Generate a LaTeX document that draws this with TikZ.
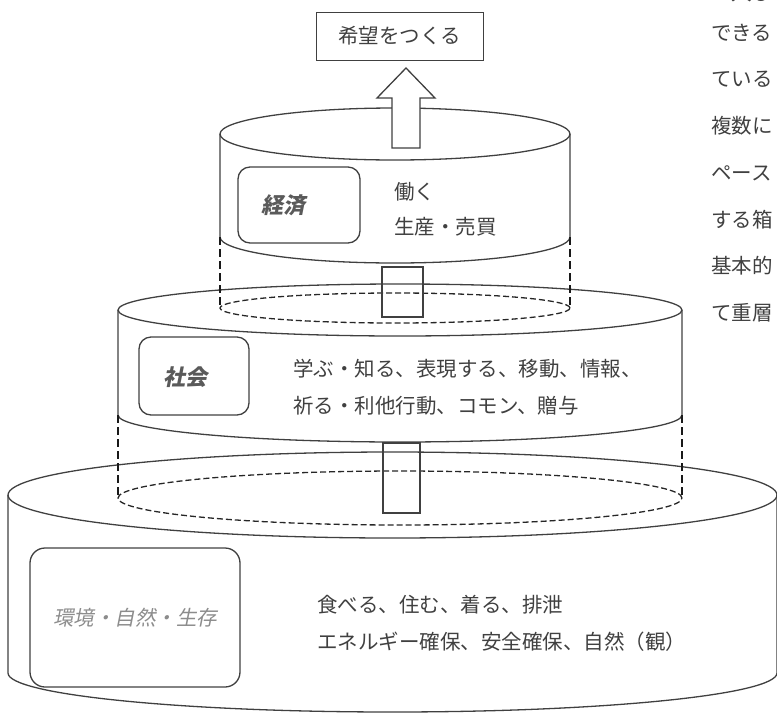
\documentclass[tikz,border=0pt]{standalone}
\usepackage{fontspec}
\setmainfont{Noto Sans CJK JP}
\newfontfamily\jpit[FakeSlant=0.2]{Noto Sans CJK JP}
\definecolor{ink}{HTML}{404040}
\definecolor{lblA}{HTML}{5A5A5A}
\definecolor{lblB}{HTML}{8C8C8C}
\begin{document}
\begin{tikzpicture}[x=1pt,y=1pt,
  solidline/.style={draw=ink, line width=1.3pt},
  dashedell/.style={draw=black!85, line width=1.3pt, dash pattern=on 6pt off 3pt},
  dashedvert/.style={draw=black!90, line width=2pt, dash pattern=on 8pt off 4pt},
  lbox/.style={draw=ink, line width=1.3pt, rounded corners=12pt},
  txt/.style={font=\fontsize{20.5}{24}\selectfont, text=ink, inner sep=0pt, anchor=west},
  lbl/.style={font=\fontsize{22}{26}\selectfont\jpit\bfseries, text=lblA, inner sep=0pt},
  lblc/.style={font=\fontsize{20.5}{24}\selectfont\jpit, text=lblB, inner sep=0pt}]
\useasboundingbox (0,0) rectangle (777,-713);

% bottom cylinder
\draw[solidline] (392.5,-495) ellipse [x radius=384.5, y radius=43];
\draw[solidline] (8,-495) -- (8,-673) arc[start angle=180, end angle=360, x radius=384.5, y radius=39] -- (777,-495);
\draw[dashedell] (400,-498) ellipse [x radius=282, y radius=27];

% middle cylinder
\draw[solidline] (400,-310) ellipse [x radius=282, y radius=26];
\draw[solidline] (118,-310) -- (118,-415) arc[start angle=180, end angle=360, x radius=282, y radius=27] -- (682,-310);
\draw[dashedvert] (118,-415) -- (118,-498);
\draw[dashedvert] (682,-415) -- (682,-498);
\draw[dashedell] (395,-308) ellipse [x radius=175, y radius=15];

% top cylinder
\draw[solidline] (395,-134) ellipse [x radius=175, y radius=26];
\draw[solidline] (220,-134) -- (220,-237) arc[start angle=180, end angle=360, x radius=175, y radius=26] -- (570,-134);
\draw[dashedvert] (220,-237) -- (220,-308);
\draw[dashedvert] (570,-237) -- (570,-308);

% small connecting blocks
\draw[solidline] (382,-267) rectangle (423,-317);
\draw[solidline] (383,-443) rectangle (420,-513);

% goal box and block arrow
\node[draw=ink, line width=1pt, minimum width=167pt, minimum height=48pt, inner sep=0pt,
      font=\fontsize{20.5}{24}\selectfont, text=ink] (goal) at (399.5,-36) {希望をつくる};
\draw[solidline, fill=white] (392,-148) -- (392,-98) -- (377,-98) -- (406,-68) -- (435,-98) -- (420,-98) -- (420,-148) -- cycle;

% label boxes
\node[lbox, minimum width=122pt, minimum height=76pt] (econbox) at (299,-205) {};
\node[lbl] (econ) at (283,-205) {経済};
\node[lbox, minimum width=110pt, minimum height=78pt] (socbox) at (194,-376) {};
\node[lbl] (soc) at (185,-377) {社会};
\node[lbox, rounded corners=15pt, minimum width=210pt, minimum height=139pt] (envbox) at (135,-617.5) {};
\node[lblc] (env) at (135,-618) {環境・自然・生存};

% descriptions
\node[txt] (e1) at (394,-192) {働く};
\node[txt] (e2) at (394,-227) {生産・売買};
\node[txt] (s1) at (293,-369) {学ぶ・知る、表現する、移動、情報、};
\node[txt] (s2) at (293,-406) {祈る・利他行動、コモン、贈与};
\node[txt] (n1) at (317,-605) {食べる、住む、着る、排泄};
\node[txt] (n2) at (317,-642) {エネルギー確保、安全確保、自然（観）};

% clipped column of text on the right
\node[txt] (r0) at (711,7) {一人ひとり};
\node[txt] (r1) at (711,-33) {できる};
\node[txt] (r2) at (711,-79) {ている};
\node[txt] (r3) at (711,-126) {複数に};
\node[txt] (r4) at (711,-173) {ペース};
\node[txt] (r5) at (711,-220) {する箱};
\node[txt] (r6) at (711,-266) {基本的};
\node[txt] (r7) at (711,-313) {て重層};
\end{tikzpicture}
\end{document}
